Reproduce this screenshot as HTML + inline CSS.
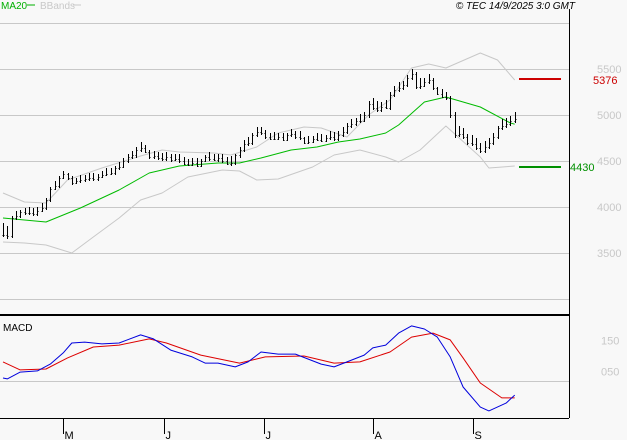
<!DOCTYPE html>
<html><head><meta charset="utf-8"><style>
body{margin:0;background:#f8f8f8;}
svg{display:block;font-family:"Liberation Sans",sans-serif;}
</style></head><body>
<svg id="c" width="627" height="440">
<rect width="627" height="440" fill="#f8f8f8"/>
<g id="grid"></g>
<g id="bands"></g>
<g id="bars"></g>
<g id="macd"></g>
<line x1="569.5" y1="9" x2="569.5" y2="418" stroke="#000"/>
<line x1="0" y1="315" x2="569" y2="315" stroke="#000" stroke-width="2"/>
<line x1="0" y1="418.5" x2="569" y2="418.5" stroke="#000"/>
<text x="1" y="9" font-size="10" fill="#00b000">MA20</text>
<line x1="27" y1="5" x2="35" y2="5" stroke="#00b000"/>
<text x="40" y="9" font-size="10" fill="#c8c8c8">BBands</text>
<line x1="73" y1="5" x2="81" y2="5" stroke="#c8c8c8"/>
<text x="575" y="9" font-size="10" font-style="italic" text-anchor="end" fill="#000">© TEC 14/9/2025 3:0 GMT</text>
<line x1="519" y1="79" x2="561" y2="79" stroke="#cc0000" stroke-width="2"/>
<text x="593" y="84" font-size="11" fill="#cc0000">5376</text>
<line x1="519" y1="167" x2="561" y2="167" stroke="#009000" stroke-width="2"/>
<text x="570" y="171" font-size="11" fill="#009000">4430</text>
<text x="3" y="331" font-size="10" fill="#000">MACD</text>
</svg>
<script>
const priceTicks=[6000,5500,5000,4500,4000,3500,3000];
const priceTickLabels=["","5500","5000","4500","4000","3500",""];
const closes=[3700,3680,3880,3900,3950,3930,3940,3920,3960,3990,4080,4200,4230,4320,4360,4310,4260,4280,4290,4300,4310,4300,4330,4350,4360,4370,4420,4440,4500,4540,4560,4620,4640,4600,4540,4550,4530,4520,4540,4510,4520,4500,4470,4460,4480,4450,4500,4540,4520,4510,4530,4500,4470,4480,4560,4620,4680,4700,4780,4820,4800,4760,4740,4740,4760,4730,4780,4790,4760,4750,4700,4710,4740,4730,4720,4750,4760,4740,4780,4820,4880,4900,4930,4940,5000,5120,5080,5050,5090,5080,5220,5270,5290,5330,5400,5450,5300,5320,5360,5380,5290,5230,5200,5180,5000,4780,4790,4760,4700,4690,4640,4610,4650,4700,4760,4860,4880,4900,4940,4960];
const ranges=[200,180,120,110,100,90,100,110,120,130,150,140,120,130,110,100,120,90,100,90,100,110,90,100,110,100,120,110,140,120,110,150,130,120,110,100,110,100,120,110,100,110,120,100,110,120,110,100,120,100,110,120,110,130,140,150,160,130,150,140,110,120,100,110,100,120,110,100,110,120,100,110,100,120,110,100,110,120,130,140,150,120,110,130,140,200,160,150,140,130,200,150,140,130,160,150,140,150,120,130,140,120,130,110,200,200,160,150,140,150,170,140,160,150,160,170,150,140,130,150];
const maIdx=[0,10,18,27,34,41,50,55,60,67,73,78,83,89,92,98,103,111,118,119];
const maVals=[3880,3837,3989,4185,4370,4446,4478,4478,4533,4620,4652,4707,4739,4804,4891,5141,5196,5087,4913,4900];
const upIdx=[0,5,10,15,23,32,37,41,49,53,59,64,70,74,80,85,90,95,99,103,111,115,119];
const upVals=[4152,4054,4043,4293,4424,4554,4620,4598,4587,4565,4652,4804,4870,4859,4761,5000,5163,5511,5554,5511,5674,5598,5380];
const loIdx=[0,5,10,16,21,27,32,37,43,51,55,59,64,72,77,83,89,92,97,103,111,113,119];
const loVals=[3620,3609,3587,3500,3674,3880,4076,4152,4326,4402,4391,4293,4304,4435,4565,4620,4543,4489,4620,4880,4543,4424,4446];
const macdIdx=[0,1,4,8,11,14,16,19,23,27,32,35,39,44,47,50,54,57,60,64,68,74,77,80,84,86,89,92,95,98,101,104,107,111,113,117,119];
const macdVals=[29,26,48,52,74,110,142,145,139,142,168,155,119,97,77,77,65,81,113,106,106,74,65,81,103,126,135,174,197,187,161,97,0,-65,-77,-52,-26];
const sigIdx=[0,4,10,15,21,27,34,38,46,55,61,70,77,83,90,95,100,104,107,111,116,119];
const sigVals=[81,55,58,94,129,135,155,142,103,77,97,100,77,81,113,161,174,152,94,13,-35,-35];
const macdTicks=[150,50];
const macdTickLabels=["150","050"];
const months=["M","J","J","A","S"];
const monthIdx=[14,37.5,60.7,86,109.3];

const NS="http://www.w3.org/2000/svg";
const xI=i=>3+i*4.3;
const yP=p=>115-(p-5000)*46/500;
const yM=v=>387-v*0.31;
function mk(tag,attrs,parent){const e=document.createElementNS(NS,tag);for(const k in attrs)e.setAttribute(k,attrs[k]);parent.appendChild(e);return e;}
const grid=document.getElementById('grid');
priceTicks.forEach((p,k)=>{
  const l=mk('line',{x1:0,x2:569,y1:yP(p)+0.5,y2:yP(p)+0.5,stroke:'#c8c8c8'},grid);
  
  
  if(priceTickLabels[k]){const t=mk('text',{x:597,y:yP(p)+4,'font-size':11,fill:'#c8c8c8'},grid);t.textContent=priceTickLabels[k];
  
  }
});
const bands=document.getElementById('bands');
function poly(idx,vals,yf,color,parent,name){
  const pts=idx.map((i,k)=>xI(i).toFixed(1)+','+yf(vals[k]).toFixed(1)).join(' ');
  const p=mk('polyline',{points:pts,fill:'none',stroke:color,'stroke-width':1,'stroke-linejoin':'round'},parent);
  
  
}
poly(upIdx,upVals,yP,'#c8c8c8',bands,'upper-band');
poly(loIdx,loVals,yP,'#c8c8c8',bands,'lower-band');
poly(maIdx,maVals,yP,'#00bb00',bands,'ma20-line');
const bars=document.getElementById('bars');
closes.forEach((c,i)=>{
  const x=Math.round(xI(i))+0.5;const r=ranges[i];
  const prev=i>0?closes[i-1]:c;
  const lo=Math.min(c,prev)-r*0.15, hi=Math.max(Math.max(c,prev)+r*0.15,lo+r*0.8);
  const g=mk('g',{},bars);
  
  
  mk('line',{x1:x,x2:x,y1:Math.round(yP(hi)),y2:Math.round(yP(lo)),stroke:'#000'},g);
  mk('line',{x1:x-1,x2:x,y1:Math.round(yP(prev))+0.5,y2:Math.round(yP(prev))+0.5,stroke:'#000'},g);
  mk('line',{x1:x,x2:x+1,y1:Math.round(yP(c))+0.5,y2:Math.round(yP(c))+0.5,stroke:'#000'},g);
});
const macd=document.getElementById('macd');
const z=mk('line',{x1:0,x2:569,y1:381.5,y2:381.5,stroke:'#c8c8c8'},macd);


macdTicks.forEach((v,k)=>{const t=mk('text',{x:601,y:yM(v)+4,'font-size':11,fill:'#c8c8c8'},macd);t.textContent=macdTickLabels[k];
  
  });
poly(sigIdx,sigVals,yM,'#dd0000',macd,'macd-signal-line');
poly(macdIdx,macdVals,yM,'#0000dd',macd,'macd-line');
months.forEach((m,k)=>{
  const x=Math.round(xI(monthIdx[k]))+0.5;
  const l=mk('line',{x1:x,x2:x,y1:418,y2:434,stroke:'#000'},macd);
  
  
  const t=mk('text',{x:x+1,y:439,'font-size':11,fill:'#000'},macd);t.textContent=m;
  
  
});
</script>
</body></html>
